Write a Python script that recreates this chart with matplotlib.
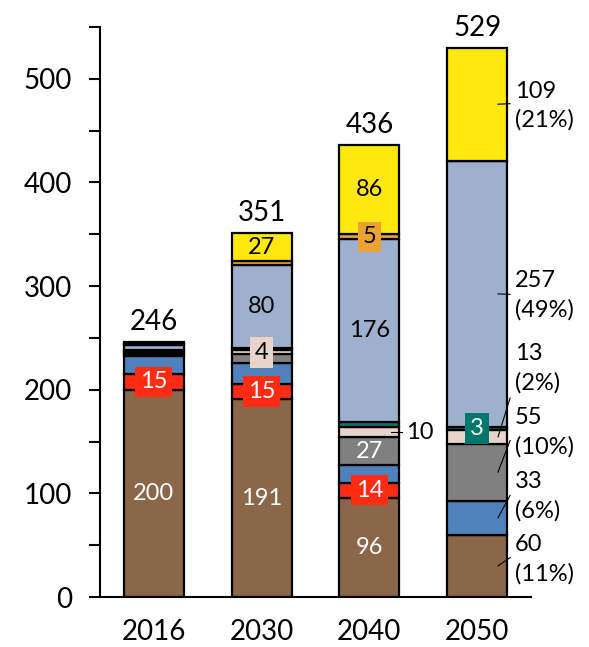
import matplotlib.pyplot as plt
from matplotlib.ticker import MultipleLocator

plt.rcParams['font.family'] = ['Lato', 'DejaVu Sans']

years = ['2016', '2030', '2040', '2050']

# stacked segments, bottom to top
brown = [200, 191, 96, 60]
red = [15, 15, 14, 0]
blue = [18, 20, 17, 33]
gray = [1, 8, 27, 55]
pink = [2, 4, 10, 13]
teal = [2, 2, 5, 3]
lightblue = [5, 80, 176, 257]
orange = [1, 4, 5, 0]
yellow = [2, 27, 86, 109]
totals = [246, 351, 436, 529]

series = [brown, red, blue, gray, pink, teal, lightblue, orange, yellow]
colors = ['#8B674A', '#FF2B12', '#4F81BD', '#808080', '#E8D4CB',
          '#00776C', '#9DB0CE', '#EBA234', '#FFE810']

# which segments get an inside label: (series index, bar index) -> (text colour, boxed)
inside = {
    (0, 0): ('white', False), (1, 0): ('white', True),
    (0, 1): ('white', False), (1, 1): ('white', True), (4, 1): ('black', True),
    (6, 1): ('black', False), (8, 1): ('black', False),
    (0, 2): ('white', False), (1, 2): ('white', True), (3, 2): ('white', False),
    (6, 2): ('black', False), (7, 2): ('black', True), (8, 2): ('black', False),
    (5, 3): ('white', True),
}

fig = plt.figure(figsize=(5.89, 6.47), dpi=100)
ax = fig.add_axes([100 / 589, 50 / 647, 431 / 589, 570 / 647])

x = range(len(years))
w = 0.556
bottoms = [0] * len(years)
centers = []
for s, vals in enumerate(series):
    ax.bar(x, vals, w, bottom=bottoms, color=colors[s], edgecolor='black',
           linewidth=1.6, zorder=2)
    centers.append([b + v / 2 for b, v in zip(bottoms, vals)])
    for i, v in enumerate(vals):
        if (s, i) in inside:
            tc, boxed = inside[(s, i)]
            bbox = dict(boxstyle='square,pad=0.2', fc=colors[s], ec='none') if boxed else None
            ax.text(i, centers[s][i], str(v), ha='center', va='center',
                    fontsize=17, color=tc, bbox=bbox, zorder=4)
    bottoms = [b + v for b, v in zip(bottoms, vals)]

for i, t in enumerate(totals):
    ax.annotate(str(t), (i, bottoms[i]), xytext=(0, 5), textcoords='offset points',
                ha='center', va='bottom', fontsize=20)

# 2040 pink label outside the bar
ax.plot([2.204, 2.306], [centers[4][2], centers[4][2]], color='black', lw=0.8, zorder=3)
ax.text(2.343, centers[4][2], str(pink[2]), ha='left', va='center', fontsize=17)

# 2050 labels with shares
label_y = {8: 474, 6: 291, 4: 221, 3: 159, 2: 97, 0: 36}
leader_end = {8: 476, 6: 292, 4: 192, 3: 151, 2: 98, 0: 38}
for s, ly in label_y.items():
    v = series[s][3]
    pct = round(100 * v / totals[3])
    ax.plot([3.194, 3.306], [centers[s][3], leader_end[s]], color='black', lw=0.8, zorder=3)
    ax.text(3.352, ly, f'{v}\n({pct}%)', ha='left', va='center', fontsize=17,
            linespacing=1.45)

ax.set_xlim(-0.5, 3.5)
ax.set_ylim(0, 550)
ax.set_xticks(list(x))
ax.set_xticklabels(years)
ax.yaxis.set_major_locator(MultipleLocator(100))
ax.yaxis.set_minor_locator(MultipleLocator(50))
ax.tick_params(axis='x', length=0, pad=16, labelsize=20)
ax.tick_params(axis='y', which='both', length=8, width=1.5, pad=12, labelsize=20)
for side in ['top', 'right']:
    ax.spines[side].set_visible(False)
for side in ['left', 'bottom']:
    ax.spines[side].set_linewidth(1.5)

plt.savefig('out.png', dpi=100)
